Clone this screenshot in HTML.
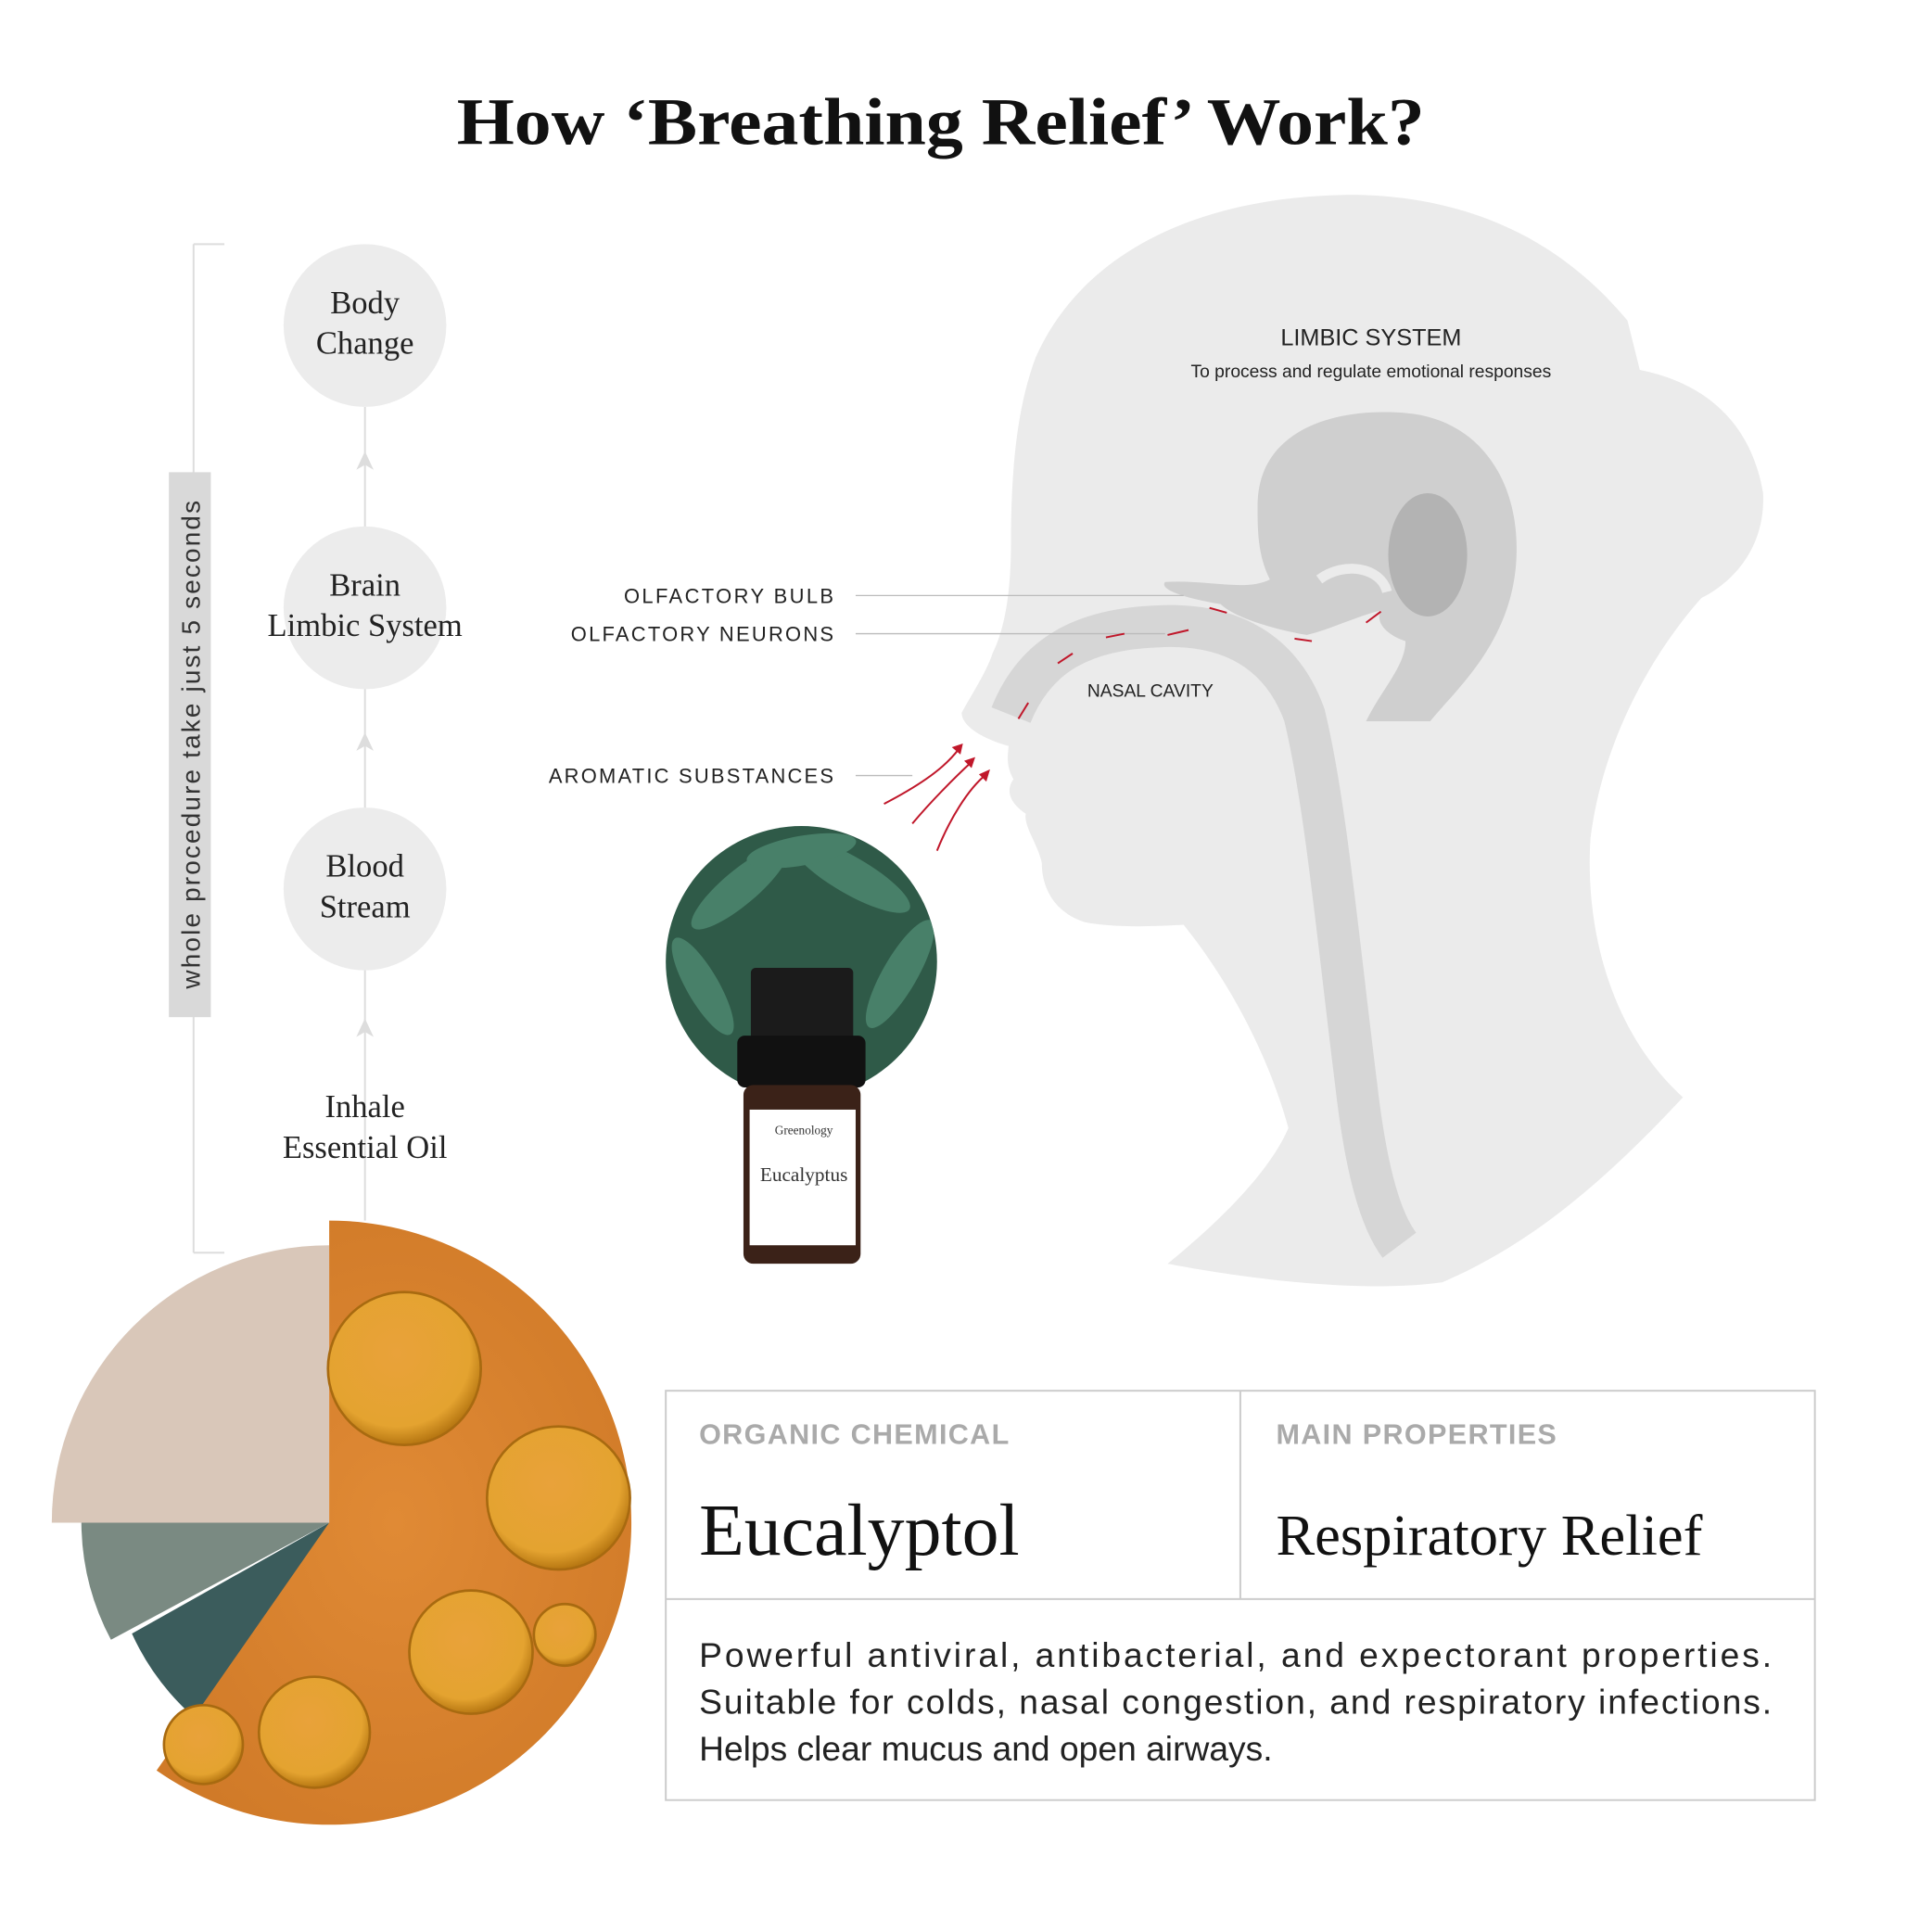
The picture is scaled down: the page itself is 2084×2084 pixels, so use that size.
<!DOCTYPE html>
<html><head><meta charset="utf-8"><style>
html,body{margin:0;padding:0;background:#fff;}
svg{display:block;}
</style></head><body>
<svg width="2084" height="2084" viewBox="0 0 1567 1567" xmlns="http://www.w3.org/2000/svg">
<defs>
<radialGradient id="og" cx="0.5" cy="0.5" r="0.6"><stop offset="0" stop-color="#e08a35"/><stop offset="1" stop-color="#d07a28"/></radialGradient>
<radialGradient id="bub" cx="0.45" cy="0.4" r="0.6"><stop offset="0" stop-color="#e9a23a"/><stop offset="0.8" stop-color="#e4a330"/><stop offset="1" stop-color="#b77712"/></radialGradient>
<clipPath id="ec"><circle cx="650" cy="780" r="110"/></clipPath>
</defs>
<rect width="1567" height="1567" fill="#fff"/>
<text x="763" y="117" text-anchor="middle" font-family="Liberation Serif,serif" font-weight="bold" font-size="54" fill="#111" textLength="785" lengthAdjust="spacingAndGlyphs">How ‘Breathing Relief’ Work?</text>

<path d="M947,1025 C990,990 1030,950 1045,915 C1030,860 1000,800 960,750 C930,752 900,752 880,748 C855,740 845,720 845,700 C842,685 830,670 832,660 C820,652 815,642 822,632 C815,620 818,610 818,605 C800,600 780,590 780,578 C790,560 800,545 805,530 C815,510 820,480 820,440 C820,380 825,330 840,290 C880,200 980,158 1100,158 C1200,160 1270,200 1320,260 L1330,300 C1380,310 1420,340 1430,400 C1432,440 1410,470 1380,485 C1340,530 1300,600 1290,680 C1285,760 1310,840 1365,890 C1300,960 1240,1010 1170,1040 C1100,1050 1000,1035 947,1025 Z" fill="#ebebeb"/>
<path d="M820,580 C840,530 880,510 940,508 C1000,505 1040,530 1058,580 C1075,650 1085,760 1100,880 C1108,950 1120,990 1135,1010" fill="none" stroke="#d6d6d6" stroke-width="34"/>
<path d="M1020,410 C1020,350 1080,330 1140,335 C1200,340 1232,390 1230,450 C1228,520 1180,560 1160,585 L1108,585 C1120,560 1140,540 1140,520 C1125,515 1115,505 1120,495 C1100,500 1080,510 1060,515 C1030,510 1000,500 990,490 C960,485 940,478 945,472 C980,470 1010,480 1030,470 C1020,450 1020,430 1020,410 Z" fill="#cfcfcf"/>
<path d="M1070,470 C1090,455 1120,460 1125,480" fill="none" stroke="#ebebeb" stroke-width="8"/>
<ellipse cx="1158" cy="450" rx="32" ry="50" fill="#b3b3b3"/>

<text x="1112" y="280" text-anchor="middle" font-family="Liberation Sans,sans-serif" font-size="19" fill="#222">LIMBIC SYSTEM</text>
<text x="1112" y="306" text-anchor="middle" font-family="Liberation Sans,sans-serif" font-size="14.5" fill="#222">To process and regulate emotional responses</text>
<text x="933" y="565" text-anchor="middle" font-family="Liberation Sans,sans-serif" font-size="14.5" fill="#222">NASAL CAVITY</text>

<g font-family="Liberation Sans,sans-serif" font-size="16.5" fill="#222" text-anchor="end">
<text x="676" y="489" textLength="170" lengthAdjust="spacing">OLFACTORY BULB</text>
<text x="676" y="520" textLength="213" lengthAdjust="spacing">OLFACTORY NEURONS</text>
<text x="676" y="635" textLength="231" lengthAdjust="spacing">AROMATIC SUBSTANCES</text>
</g>
<g stroke="#bbb" stroke-width="1">
<line x1="694" y1="483" x2="960" y2="483"/>
<line x1="694" y1="514" x2="945" y2="514"/>
<line x1="694" y1="629" x2="740" y2="629"/>
</g>
<g stroke="#c0172a" stroke-width="1.5" fill="none">
<path d="M717,652 C740,640 765,625 778,607"/>
<path d="M740,668 C755,650 775,630 788,618"/>
<path d="M760,690 C770,665 785,640 800,628"/>
<path d="M826,583 L834,570"/><path d="M858,538 L870,530"/><path d="M897,517 L912,514"/><path d="M947,515 L964,511"/><path d="M981,493 L995,497"/><path d="M1050,518 L1064,520"/><path d="M1108,505 L1120,496"/>
</g>
<g fill="#c0172a">
<path d="M781,603 L772,606 L779,612 Z"/><path d="M791,614 L782,617 L788,623 Z"/><path d="M803,624 L794,628 L800,634 Z"/>
</g>

<circle cx="650" cy="780" r="110" fill="#2f5a48"/>
<g clip-path="url(#ec)" fill="#4f8a72" opacity="0.8">
<ellipse cx="600" cy="720" rx="50" ry="14" transform="rotate(-40 600 720)"/>
<ellipse cx="690" cy="710" rx="55" ry="15" transform="rotate(30 690 710)"/>
<ellipse cx="730" cy="790" rx="50" ry="14" transform="rotate(-60 730 790)"/>
<ellipse cx="570" cy="800" rx="45" ry="13" transform="rotate(60 570 800)"/>
<ellipse cx="650" cy="690" rx="45" ry="12" transform="rotate(-10 650 690)"/>
</g>
<rect x="609" y="785" width="83" height="60" rx="4" fill="#1b1b1b"/>
<rect x="598" y="840" width="104" height="42" rx="6" fill="#111"/>
<rect x="603" y="880" width="95" height="145" rx="8" fill="#3b2218"/>
<rect x="608" y="900" width="86" height="110" fill="#fff"/>
<text x="652" y="920" text-anchor="middle" font-family="Liberation Serif,serif" font-size="10" fill="#333">Greenology</text>
<text x="652" y="958" text-anchor="middle" font-family="Liberation Serif,serif" font-size="16" fill="#333">Eucalyptus</text>

<line x1="157" y1="198" x2="157" y2="1016" stroke="#ddd" stroke-width="1.5"/>
<line x1="157" y1="198" x2="182" y2="198" stroke="#ddd" stroke-width="1.5"/>
<line x1="157" y1="1016" x2="182" y2="1016" stroke="#ddd" stroke-width="1.5"/>
<rect x="137" y="383" width="34" height="442" fill="#d9d9d9"/>
<text transform="translate(162 604) rotate(-90)" text-anchor="middle" font-family="Liberation Sans,sans-serif" font-size="21" fill="#333" textLength="396" lengthAdjust="spacing">whole procedure take just 5 seconds</text>
<line x1="296" y1="330" x2="296" y2="990" stroke="#ddd" stroke-width="1.5"/>
<g fill="#ddd"><path d="M296,366 L289,381 L296,377 L303,381 Z"/><path d="M296,594 L289,609 L296,605 L303,609 Z"/><path d="M296,826 L289,841 L296,837 L303,841 Z"/></g>
<circle cx="296" cy="264" r="66" fill="#ececec"/>
<circle cx="296" cy="493" r="66" fill="#ececec"/>
<circle cx="296" cy="721" r="66" fill="#ececec"/>
<g font-family="Liberation Serif,serif" font-size="26" fill="#222" text-anchor="middle">
<text x="296" y="254">Body</text><text x="296" y="287">Change</text>
<text x="296" y="483">Brain</text><text x="296" y="516">Limbic System</text>
<text x="296" y="711">Blood</text><text x="296" y="744">Stream</text>
<text x="296" y="906">Inhale</text><text x="296" y="939">Essential Oil</text>
</g>

<path d="M267,1235 L42,1235 A225,225 0 0 1 267,1010 Z" fill="#d9c7b9"/>
<path d="M267,1235 L66,1235 A205,205 0 0 0 90,1330 Z" fill="#7a8a82"/>
<path d="M267,1235 L107,1325 A200,200 0 0 0 180,1410 Z" fill="#3b5c5c"/>
<path d="M267,1235 L267,990 A245,245 0 1 1 127,1436 Z" fill="url(#og)"/>
<g fill="url(#bub)" stroke="#a86a10" stroke-width="2">
<circle cx="328" cy="1110" r="62"/>
<circle cx="453" cy="1215" r="58"/>
<circle cx="382" cy="1340" r="50"/>
<circle cx="255" cy="1405" r="45"/>
<circle cx="458" cy="1326" r="25"/>
<circle cx="165" cy="1415" r="32"/>
</g>

<g fill="none" stroke="#ccc" stroke-width="1.5">
<rect x="540" y="1128" width="932" height="332"/>
<line x1="540" y1="1297" x2="1472" y2="1297"/>
<line x1="1006" y1="1128" x2="1006" y2="1297"/>
</g>
<g font-family="Liberation Sans,sans-serif" font-weight="bold" font-size="23" fill="#aaa" letter-spacing="1">
<text x="567" y="1171">ORGANIC CHEMICAL</text>
<text x="1035" y="1171">MAIN PROPERTIES</text>
</g>
<text x="567" y="1261" font-family="Liberation Serif,serif" font-size="60" fill="#111">Eucalyptol</text>
<text x="1035" y="1261" font-family="Liberation Serif,serif" font-size="47" fill="#111">Respiratory Relief</text>
<g font-family="Liberation Sans,sans-serif" font-size="28" fill="#222">
<text x="567" y="1352" textLength="870" lengthAdjust="spacing">Powerful antiviral, antibacterial, and expectorant properties.</text>
<text x="567" y="1390" textLength="870" lengthAdjust="spacing">Suitable for colds, nasal congestion, and respiratory infections.</text>
<text x="567" y="1428">Helps clear mucus and open airways.</text>
</g>
</svg>
</body></html>
